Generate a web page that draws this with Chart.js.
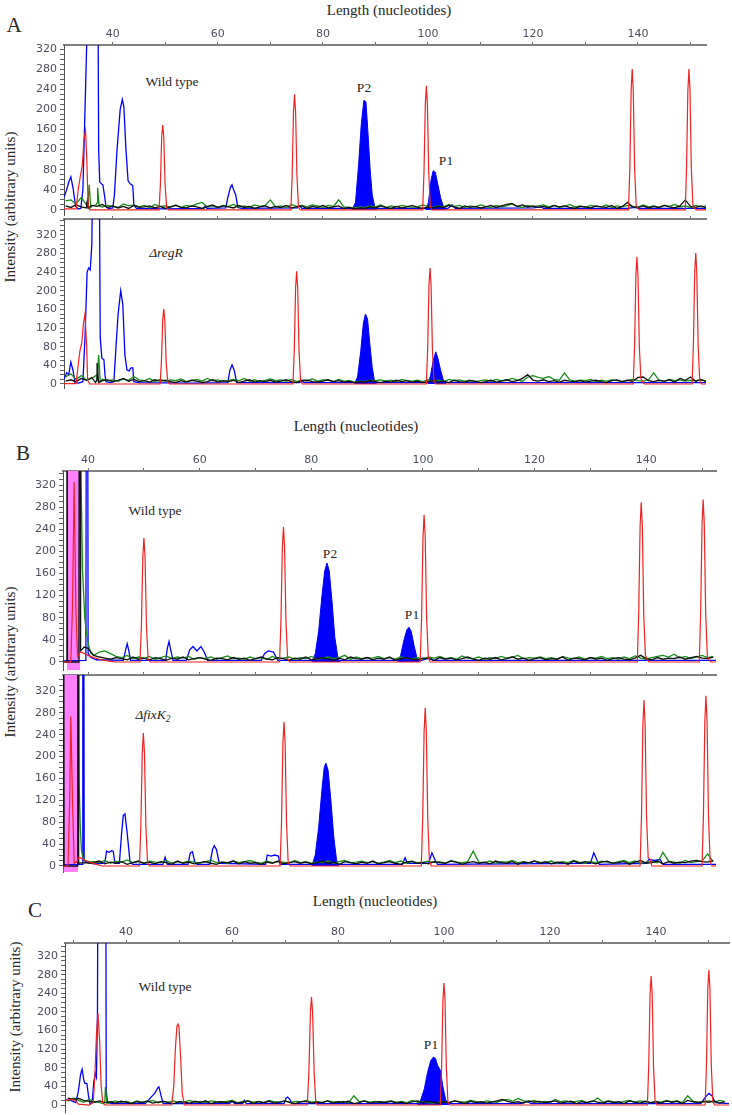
<!DOCTYPE html>
<html><head><meta charset="utf-8">
<script src="https://cdn.jsdelivr.net/npm/chart.js@4.4.1/dist/chart.umd.min.js"></script>
<style>
body{margin:0;background:#fff;}
#wrap{position:relative;width:732px;height:1115px;overflow:hidden;font-family:'Liberation Serif','DejaVu Serif','Times New Roman',serif;color:#262626;}
canvas{position:absolute;}
.t{position:absolute;white-space:nowrap;transform:translate(-50%,-50%);line-height:1;}
.r{position:absolute;white-space:nowrap;transform:translate(-50%,-50%) rotate(-90deg);line-height:1;font-size:15px;}
.i{font-style:italic;}
sub{font-size:70%;vertical-align:-3px;}
</style></head><body>
<div id="wrap">
<div class="t" style="left:389px;top:10px;font-size:15px">Length (nucleotides)</div>
<div class="t" style="left:14px;top:25px;font-size:21px">A</div>
<div class="r" style="left:10px;top:207px">Intensity (arbitrary units)</div>
<div class="t" style="left:172px;top:82px;font-size:13.5px">Wild type</div>
<div class="t" style="left:364px;top:88px;font-size:13.5px">P2</div>
<div class="t" style="left:446px;top:161px;font-size:13.5px">P1</div>
<div class="t i" style="left:166px;top:253px;font-size:13.5px">ΔregR</div>

<div class="t" style="left:356px;top:426px;font-size:15px">Length (nucleotides)</div>
<div class="t" style="left:23px;top:453px;font-size:21px">B</div>
<div class="r" style="left:10px;top:662px">Intensity (arbitrary units)</div>
<div class="t" style="left:155px;top:511px;font-size:13.5px">Wild type</div>
<div class="t" style="left:330px;top:554px;font-size:13.5px">P2</div>
<div class="t" style="left:412px;top:615px;font-size:13.5px">P1</div>
<div class="t i" style="left:153px;top:716px;font-size:13.5px">ΔfixK<sub>2</sub></div>

<div class="t" style="left:375px;top:901px;font-size:15px">Length (nucleotides)</div>
<div class="t" style="left:35px;top:910px;font-size:21px">C</div>
<div class="r" style="left:15px;top:1017px">Intensity (arbitrary units)</div>
<div class="t" style="left:165px;top:987px;font-size:13.5px">Wild type</div>
<div class="t" style="left:431px;top:1045px;font-size:13.5px">P1</div>
</div>
<script>
// ---------- tick values ----------
const xTickValues = [30,40,50,60,70,80,90,100,110,120,130,140,150];
const yTickValues = [0,10,20,30,40,50,60,70,80,90,100,110,120,130,140,150,160,170,180,190,200,210,220,230,240,250,260,270,280,290,300,310,320,330,340,350];

// ---------- nucleotide grids for baseline noise ----------
const gridA = [31,32,33,34,35,36,37,38,39,40,41,42,43,44,45,46,47,48,49,50,51,52,53,54,55,56,57,58,59,60,61,62,63,64,65,66,67,68,69,70,71,72,73,74,75,76,77,78,79,80,81,82,83,84,85,86,87,88,89,90,91,92,93,94,95,96,97,98,99,100,101,102,103,104,105,106,107,108,109,110,111,112,113,114,115,116,117,118,119,120,121,122,123,124,125,126,127,128,129,130,131,132,133,134,135,136,137,138,139,140,141,142,143,144,145,146,147,148,149,150,151,152,153];
const gridB = [41,42,43,44,45,46,47,48,49,50,51,52,53,54,55,56,57,58,59,60,61,62,63,64,65,66,67,68,69,70,71,72,73,74,75,76,77,78,79,80,81,82,83,84,85,86,87,88,89,90,91,92,93,94,95,96,97,98,99,100,101,102,103,104,105,106,107,108,109,110,111,112,113,114,115,116,117,118,119,120,121,122,123,124,125,126,127,128,129,130,131,132,133,134,135,136,137,138,139,140,141,142,143,144,145,146,147,148,149,150,151,152];
const gridC = [29,30,31,32,33,34,35,36,37,38,39,40,41,42,43,44,45,46,47,48,49,50,51,52,53,54,55,56,57,58,59,60,61,62,63,64,65,66,67,68,69,70,71,72,73,74,75,76,77,78,79,80,81,82,83,84,85,86,87,88,89,90,91,92,93,94,95,96,97,98,99,100,101,102,103,104,105,106,107,108,109,110,111,112,113,114,115,116,117,118,119,120,121,122,123,124,125,126,127,128,129,130,131,132,133,134,135,136,137,138,139,140,141,142,143,144,145,146,147,148,149,150,151,152,153];

// ---------- Panel A, wild type ----------
const a1Blue = [[30.7,25],[31.2,40],[31.6,55],[32.0,66],[32.4,45],[32.9,8],[33.4,2],[33.9,3],[34.3,40],[34.7,200],[35.1,360],[35.3,600],[37.1,600],[37.3,120],[37.5,56],[37.8,52],[38.1,50],[38.4,30],[38.7,6],[39.2,3],[40.0,4],[40.3,30],[40.8,120],[41.4,200],[41.8,220],[42.1,205],[42.5,120],[42.9,58],[43.3,52],[43.6,50],[43.8,48],[44.0,10],[44.5,3],[50,2],[57.3,3],[57.6,8],[57.9,3],[61.5,4],[61.9,25],[62.4,45],[62.7,50],[63.0,40],[63.4,30],[63.8,5],[64.5,3],[75.2,4],[75.6,8],[76,3],[85.0,3],[90.5,3],[100,3],[103.8,3],[104.6,10],[105.2,3],[120,4],[121.6,6],[122,3],[138,3],[139.5,5],[140,3],[149,3],[153,3]];
const a1BlueP2 = [[85.5,0],[86.2,15],[86.8,90],[87.3,170],[87.8,218],[88.2,215],[88.6,150],[89.0,80],[89.4,30],[89.9,5],[90.3,0]];
const a1BlueP1 = [[99.6,0],[100.1,15],[100.6,60],[101.0,78],[101.4,75],[101.9,50],[102.4,25],[102.9,8],[103.4,0]];
const a1Red = [[30.7,2],[33.0,2],[33.4,40],[33.8,66],[34.2,90],[34.5,140],[34.8,158],[35.0,110],[35.3,12],[35.6,0],
  [48.8,0],[49.05,50],[49.3,145],[49.5,169],[49.7,145],[49.95,50],[50.25,5],[50.6,0],
  [73.9,0],[74.15,70],[74.4,195],[74.6,230],[74.8,195],[75.05,70],[75.35,6],[75.7,0],
  [99.0,0],[99.25,75],[99.5,210],[99.7,247],[99.9,210],[100.15,75],[100.45,6],[100.8,0],
  [138.2,0],[138.45,85],[138.7,238],[138.9,280],[139.1,238],[139.35,85],[139.65,10],[140.0,3],[140.3,0],
  [149.0,0],[149.25,85],[149.5,238],[149.7,280],[149.9,238],[150.15,85],[150.45,10],[150.8,3],[151.1,0],[153,0]];
const a1Green = [18,20,12,25,10,8,14,6,9,7, 5,12,8,10,6,9,4,11,7,8, 6,10,5,9,7,12,15,6,8,5, 9,7,11,6,8,5,10,7,9,20, 6,8,5,11,7,9,6,10,8,5, 9,7,20,6,5,4,6,5,8,6, 10,5,8,6,9,7,5,6,10,7, 5,8,6,11,7,9,5,8,6,10, 7,5,9,6,8,12,7,5,9,6, 8,10,6,9,5,7,11,6,8,5, 9,7,6,10,5,8,6,9,7,5, 10,6,8,5,9,7,11,6,8,5, 9,6,8];
const a1GreenPk = [[35.2,5],[35.5,50],[35.8,5],[36.8,10],[37.1,44],[37.4,8]];
const a1Black = [8,5,10,6,12,9,7,11,5,8, 4,7,3,9,5,6,8,4,7,3, 6,9,5,4,8,6,3,7,10,5, 8,6,4,9,5,7,3,6,8,4, 7,5,9,4,6,8,3,7,5,9, 4,6,8,3,5,2,4,3,6,4, 8,5,3,7,4,6,9,5,3,6, 4,7,5,9,6,3,8,5,7,4, 6,9,5,8,11,13,7,10,6,8, 5,7,4,9,6,8,5,3,7,6, 4,8,6,5,9,3,7,15,6,5, 8,4,7,5,9,6,4,8,20,7, 5,8,4];
const a1BlackPk = [[34.9,4],[35.2,20],[35.4,4]];

// ---------- Panel A, deltaregR ----------
const a2Blue = [[30.7,10],[31.2,24],[31.6,20],[32.0,47],[32.4,30],[32.8,3],[33.5,2],[34.3,5],[34.7,100],[35.1,240],[35.4,249],[35.7,245],[36.0,300],[36.2,500],[37.4,500],[37.6,100],[37.9,56],[38.3,52],[38.5,20],[38.7,5],[39.5,3],[40.2,5],[40.6,80],[41.0,150],[41.5,200],[41.9,170],[42.3,62],[42.7,30],[43.1,28],[43.4,34],[43.8,35],[44.0,5],[45,3],[55,2],[61.9,3],[62.3,30],[62.7,41],[63.1,30],[63.6,3],[75.5,3],[76,6],[76.4,3],[86,3],[90.5,3],[100,3],[104,3],[120,3],[140,3],[153,3]];
const a2BlueP2 = [[86.0,0],[86.6,15],[87.2,70],[87.7,130],[88.1,150],[88.5,140],[88.9,90],[89.4,35],[89.8,8],[90.2,0]];
const a2BlueP1 = [[100.0,0],[100.5,18],[101.0,50],[101.5,69],[101.9,55],[102.4,30],[102.9,10],[103.4,0]];
const a2Red = [[30.7,1],[33.0,1],[33.3,30],[33.7,69],[34.1,90],[34.4,130],[34.7,150],[35.0,85],[35.2,8],[35.6,0],
  [49.0,0],[49.25,48],[49.5,137],[49.7,161],[49.9,137],[50.15,48],[50.45,5],[50.8,0],
  [74.3,0],[74.55,73],[74.8,206],[75.0,242],[75.2,206],[75.45,73],[75.75,6],[76.1,0],
  [99.7,0],[99.95,75],[100.2,212],[100.4,249],[100.6,212],[100.85,75],[101.15,6],[101.5,0],
  [139.1,0],[139.35,82],[139.6,232],[139.8,273],[140.0,232],[140.25,82],[140.55,12],[140.9,4],[141.2,0],
  [150.3,0],[150.55,84],[150.8,239],[151.0,281],[151.2,239],[151.45,84],[151.75,8],[152.1,0],[153,0]];
const a2Green = [15,22,10,18,8,12,20,10,7,9, 6,11,8,16,9,7,12,5,10,6, 9,7,11,5,8,10,6,12,7,9, 5,8,10,7,12,6,9,5,8,11, 7,9,6,10,5,8,7,11,6,9, 8,5,10,6,7,4,6,5,8,7, 9,6,8,5,10,7,6,8,5,9, 6,8,5,10,7,9,6,8,5,7, 9,6,10,7,8,12,9,6,15,18, 14,12,16,10,8,24,9,6,8,7, 10,5,8,6,9,7,5,8,10,7, 6,9,24,8,5,10,7,9,6,8, 7,9,6];
const a2GreenPk = [[37.0,5],[37.3,62],[37.6,5]];
const a2Black = [6,9,5,12,8,14,10,7,9,5, 8,12,6,10,5,7,4,9,6,8, 5,3,7,4,8,6,3,5,9,4, 7,5,8,3,6,9,4,7,5,8, 4,6,9,5,3,7,8,5,4,6, 9,5,7,4,6,3,5,4,7,5, 3,6,4,8,5,7,4,6,3,5, 7,4,6,3,8,5,4,7,6,3, 5,8,4,6,9,5,7,12,20,8, 6,9,5,7,4,8,6,5,7,4, 6,8,5,3,7,9,5,8,6,14, 15,7,5,8,6,9,4,12,8,15, 6,10,5];
const a2BlackPk = [[36.7,3],[37.0,45],[37.3,3]];

// ---------- Panel B, wild type ----------
const b1Pink = [[36.2,999],[38.6,999]];
const b1Blue = [[35.5,2],[39.6,3],[39.75,999],[39.85,999],[40.0,16],[40.5,8],[41.5,4],[46.3,3],[46.8,25],[47.0,33],[47.3,20],[47.6,3],[53.9,3],[54.2,25],[54.5,37],[54.8,22],[55.2,3],[57.6,3],[58.2,22],[58.8,28],[59.5,20],[60.2,28],[60.8,18],[61.4,3],[71.0,3],[71.6,15],[72.3,20],[73.2,18],[74.0,3],[79.5,3],[85.5,3],[95,3],[99.8,3],[101.3,8],[101.8,3],[120,3],[152.5,3]];
const b1BlueP2 = [[80.1,0],[80.7,15],[81.3,55],[81.9,120],[82.4,165],[82.8,179],[83.2,165],[83.7,110],[84.2,45],[84.8,5],[85.2,0]];
const b1BlueP1 = [[95.5,0],[96.0,12],[96.6,40],[97.1,58],[97.5,63],[97.9,55],[98.4,30],[98.9,8],[99.3,0]];
const b1Red = [[35.5,0],[36.9,0],[37.2,100],[37.5,325],[37.8,100],[38.1,10],[38.6,18],[39.2,16],[40,12],[41,8],[42,5],[43,3],[44,1],[45,0],
  [49.3,0],[49.55,67],[49.8,190],[50.0,224],[50.2,190],[50.45,67],[50.75,5],[51.1,0],
  [74.3,0],[74.55,73],[74.8,207],[75.0,244],[75.2,207],[75.45,73],[75.75,6],[76.1,0],
  [99.5,0],[99.75,80],[100.0,226],[100.2,266],[100.4,226],[100.65,80],[100.95,8],[101.3,0],
  [138.4,0],[138.65,87],[138.9,245],[139.1,289],[139.3,245],[139.55,87],[139.85,12],[140.2,4],[140.5,0],
  [149.5,0],[149.75,88],[150.0,250],[150.2,294],[150.4,250],[150.65,88],[150.95,10],[151.3,3],[151.6,0],[152.5,0]];
const b1Green = [12,18,20,15,10,8,12,6,9,7, 10,5,8,11,6,9,7,10,5,8, 6,9,5,8,11,6,7,5,9,6, 8,5,10,6,7,9,5,8,6,10, 5,7,9,6,8,12,5,9,6,8, 7,10,6,8,5,9,7,6,8,5, 9,7,10,6,8,5,11,7,6,9, 5,8,6,10,7,9,12,6,8,7, 9,6,8,5,10,7,6,9,5,8, 7,10,6,8,5,9,6,11,7,5, 8,10,12,9,14,7,10,6,9,12, 8,10];
const b1GreenPk = [[38.4,999],[38.7,350],[39.0,166],[39.4,80],[39.7,52],[40.1,30],[40.5,16]];
const b1Black = [12,9,7,5,8,6,4,9,5,7, 4,8,6,3,7,5,9,4,6,8, 5,3,7,6,4,8,5,7,3,6, 9,5,4,8,6,3,7,5,9,4, 6,8,5,3,7,4,9,6,5,8, 4,7,5,9,3,6,8,5,4,7, 6,3,8,5,7,4,6,9,5,3, 7,5,8,4,6,9,5,7,3,6, 8,4,6,5,9,3,7,6,4,8, 5,7,3,6,8,5,4,7,12,6, 4,8,5,7,6,9,5,8,10,7, 6,9];
const b1BlackPk = [[35.5,0],[36.15,0],[36.2,999],[36.3,0],[38.35,0],[38.45,999],[38.55,999],[38.65,20],[39.3,27],[39.9,25],[40.5,18]];

// ---------- Panel B, deltafixK2 ----------
const b2Pink = [[35.6,999],[38.2,999]];
const b2Blue = [[35.5,2],[38.95,3],[39.05,999],[39.15,999],[39.3,10],[40,6],[41,4],[43.0,5],[43.3,27],[43.8,25],[44.2,28],[44.5,27],[44.8,5],[45.6,5],[46.0,60],[46.3,92],[46.6,95],[47.0,60],[47.5,8],[48,3],[53.4,3],[53.8,16],[54.2,3],[57.9,3],[58.3,24],[58.7,26],[59.1,8],[59.5,3],[61.8,3],[62.3,30],[62.6,37],[63.0,30],[63.5,5],[71.8,3],[72.1,20],[72.8,18],[73.4,20],[74.1,18],[74.4,3],[79.5,3],[85.5,3],[96.3,3],[96.8,15],[97.2,5],[101.0,5],[101.6,24],[102.2,10],[102.6,3],[130.0,5],[130.6,24],[131.2,10],[131.6,3],[140.0,5],[140.5,12],[141.5,10],[142.5,12],[143,3],[152.5,3]];
const b2BlueP2 = [[80.1,0],[80.7,20],[81.3,70],[81.9,140],[82.3,180],[82.6,188],[83.0,175],[83.5,120],[84.0,55],[84.5,12],[84.9,0]];
const b2Red = [[35.5,0],[36.4,0],[36.7,120],[36.9,273],[37.2,120],[37.5,5],[38.0,8],[38.3,16],[38.8,14],[39.5,10],[40.5,6],[41.5,3],[42.5,0],
  [49.2,0],[49.45,73],[49.7,206],[49.9,243],[50.1,206],[50.35,73],[50.65,6],[51.0,0],
  [74.4,0],[74.65,79],[74.9,224],[75.1,263],[75.3,224],[75.55,79],[75.85,6],[76.2,0],
  [99.7,0],[99.95,87],[100.2,245],[100.4,289],[100.6,245],[100.85,87],[101.15,8],[101.5,0],
  [138.9,0],[139.15,91],[139.4,258],[139.6,303],[139.8,258],[140.05,91],[140.35,15],[140.7,12],[141.0,0],
  [150.0,0],[150.25,93],[150.5,264],[150.7,311],[150.9,264],[151.15,93],[151.45,8],[151.8,0],[152.5,0]];
const b2Green = [8,6,10,5,9,7,11,6,8,5, 9,7,6,10,5,8,6,9,7,5, 8,10,6,7,5,9,6,8,10,7, 5,9,6,8,7,5,10,6,8,5, 7,6,9,5,8,10,6,7,9,6, 8,5,7,10,6,9,5,8,6,7, 9,6,8,5,10,7,6,8,27,7, 6,9,5,8,7,10,6,8,5,9, 7,6,9,5,8,6,10,7,5,8, 6,9,7,5,8,10,6,9,5,7, 8,6,25,9,7,5,10,6,8,9, 22,8];
const b2GreenPk = [[38.1,999],[38.4,150],[38.6,71],[38.8,30],[39.0,18],[39.4,10],[40.2,8]];
const b2Black = [6,9,4,7,5,8,3,6,9,5, 7,4,8,6,3,9,5,7,4,6, 8,5,3,7,6,9,4,8,5,6, 3,7,5,9,4,6,8,5,7,4, 6,9,5,7,3,8,6,4,7,5, 9,4,6,8,5,3,7,9,5,6, 4,8,6,5,9,7,3,6,8,5, 7,4,9,6,5,8,3,7,6,9, 5,8,4,7,6,3,9,5,8,6, 4,7,9,5,6,8,3,7,10,5, 6,9,4,8,5,7,6,9,10,8, 7,10];
const b2BlackPk = [[35.5,0],[35.55,0],[35.6,999],[35.7,0],[38.1,0],[38.15,999],[38.25,999],[38.3,5],[39.5,6],[40.3,5]];

// ---------- Panel C, wild type ----------
const cBlue = [[28.5,11],[29.5,10],[30.5,5],[31.0,30],[31.4,65],[31.7,77],[32.0,55],[32.2,47],[32.6,46],[32.9,20],[33.2,2],[33.6,5],[33.9,50],[34.2,68],[34.4,60],[34.6,200],[34.8,999],[36.1,999],[36.25,30],[36.5,5],[37.5,3],[43.6,3],[44.2,10],[44.8,18],[45.4,25],[46.0,37],[46.2,39],[46.6,20],[47.0,3],[59.5,3],[60.0,8],[60.5,3],[62.0,3],[62.3,10],[62.7,3],[69.8,3],[70.2,15],[70.5,17],[70.9,12],[71.3,3],[94.5,3],[101.5,3],[114.5,3],[115.6,8],[116.5,3],[148.5,3],[149.2,15],[150.0,25],[150.6,20],[151.2,5],[153.8,3]];
const cBlueP1 = [[95.0,0],[95.6,10],[96.3,35],[96.9,70],[97.5,95],[98.0,103],[98.4,100],[98.8,85],[99.3,75],[99.8,40],[100.3,12],[100.9,0]];
const cRed = [[28.5,10],[29.5,12],[30.4,10],[31.0,2],[33.0,0],[33.8,5],[34.1,60],[34.4,150],[34.7,197],[35.0,140],[35.3,40],[35.6,5],[36,0],
  [48.6,0],[49.0,40],[49.3,120],[49.6,170],[49.8,174],[50.0,165],[50.3,100],[50.6,25],[51.0,0],
  [74.2,0],[74.5,70],[74.8,200],[75.0,232],[75.2,200],[75.5,70],[75.8,6],[76.1,0],
  [99.3,0],[99.55,80],[99.8,225],[100.0,262],[100.2,225],[100.45,80],[100.75,6],[101.1,0],
  [138.4,0],[138.65,85],[138.9,238],[139.1,277],[139.3,238],[139.55,85],[139.85,8],[140.2,0],
  [149.3,0],[149.55,88],[149.8,250],[150.0,290],[150.2,250],[150.45,88],[150.75,8],[151.1,0],[153.8,0]];
const cGreen = [8,15,10,6,12,8,5,10,6,9, 5,8,4,9,6,7,10,5,8,6, 9,5,7,10,6,8,5,9,7,6, 8,10,5,7,9,6,8,5,10,7, 6,9,5,8,7,10,6,8,5,9, 7,6,8,5,20,7,9,6,8,5, 7,9,6,8,5,10,6,7,5,4, 6,8,5,9,7,6,10,8,5,9, 7,6,10,12,8,14,9,7,10,6, 8,5,12,7,9,6,8,10,5,7, 15,6,9,7,5,8,10,6,9,7, 5,8,6,10,7,9,5,20,8,6, 7,9,6,10,8];
const cGreenPk = [[35.8,3],[36.1,39],[36.4,3]];
const cBlack = [15,12,14,10,8,6,9,5,7,4, 8,6,3,7,5,9,4,6,8,5, 3,7,6,4,8,5,9,3,6,7, 5,8,4,6,9,3,7,5,8,4, 6,9,5,3,7,8,4,6,5,9, 4,7,6,8,3,5,9,4,6,7, 5,8,4,6,3,7,9,5,8,6, 4,7,5,9,6,3,8,5,7,4, 6,9,12,8,5,7,4,9,6,8, 5,7,9,4,6,8,3,7,5,9, 6,4,8,5,7,3,9,6,4,8, 5,7,4,9,6,8,3,10,7,5, 8,6,9,4,7];
const cBlackPk = [];

// ---------- rendering ----------
const BLUE='#0000ff', RED='#f02323', GREEN='#1b8c1b', BLACK='#111111', PINK='#ff80ff';
function pts(a){return a.map(p=>({x:p[0],y:p[1]}));}
function zip(g,v){return g.map((x,i)=>({x:x,y:v[i]}));}
function merged(g,v,pk){return zip(g,v).concat(pts(pk)).sort((a,b)=>a.x-b.x);}

function panel(p){
  const c=document.createElement('canvas');
  const topH=p.labels?30:6;
  const w=732, h=topH+(p.bottom-p.top)+2;
  c.width=w; c.height=h;
  c.style.left='0px'; c.style.top=(p.top-topH)+'px';
  c.style.width=w+'px'; c.style.height=h+'px';
  document.getElementById('wrap').appendChild(c);
  const line=(data,color,bw)=>({data:data,borderColor:color,backgroundColor:color,borderWidth:bw,pointRadius:0,fill:false,tension:0});
  const ds=[];
  ds.push(line(pts(p.red),RED,1.2));
  ds.push(line(merged(p.grid,p.black,p.blackPk),BLACK,1.3));
  ds.push(line(merged(p.grid,p.green,p.greenPk),GREEN,1.3));
  ds.push(line(pts(p.blue),BLUE,1.3));
  p.fills.forEach(f=>ds.push({data:pts(f),borderColor:BLUE,backgroundColor:BLUE,borderWidth:1,pointRadius:0,fill:'origin',tension:0}));
  if(p.pink) ds.push({data:pts(p.pink),borderWidth:0,borderColor:'rgba(0,0,0,0)',backgroundColor:PINK,pointRadius:0,fill:'start',tension:0});
  const tickFont={family:'DejaVu Sans',size:11};
  new Chart(c,{type:'line',data:{datasets:ds},options:{
    responsive:false,animation:false,events:[],
    layout:{padding:{left:0,top:0,right:w-p.right,bottom:2}},
    plugins:{legend:{display:false},tooltip:{enabled:false}},
    scales:{
      x:{type:'linear',position:'top',min:p.xmin,max:p.xmax,
        afterBuildTicks:s=>{s.ticks=xTickValues.filter(v=>v>=p.xmin&&v<=p.xmax).map(v=>({value:v}));},
        afterFit:s=>{s.height=topH;s.paddingLeft=0;s.paddingRight=0;},
        grid:{drawOnChartArea:false,drawTicks:true,tickLength:3,color:'#707070',tickWidth:1},
        border:{display:true,color:'#808080',width:2},
        ticks:{display:p.labels,autoSkip:false,maxRotation:0,padding:1,color:'#4e4e60',font:tickFont,
          callback:v=>(v%20===0?String(v):'')}
      },
      y:{type:'linear',position:'left',min:p.ymin,max:p.ymax,
        afterBuildTicks:s=>{s.ticks=yTickValues.filter(v=>v>=p.ymin&&v<=p.ymax).map(v=>({value:v}));},
        afterFit:s=>{s.width=p.left;s.paddingTop=0;s.paddingBottom=0;},
        grid:{drawOnChartArea:false,drawTicks:true,tickLength:4,color:'#606060'},
        border:{display:true,color:'#505050',width:1},
        ticks:{autoSkip:false,padding:3,color:'#4e4e60',font:tickFont,
          callback:v=>(v%40===0?String(v):'')}
      }
    }
  }});
}

panel({labels:true,left:64,right:706,top:45,bottom:215,xmin:30.7,xmax:152.95,ymin:-10,ymax:328,
  grid:gridA,red:a1Red,blue:a1Blue,green:a1Green,greenPk:a1GreenPk,black:a1Black,blackPk:a1BlackPk,fills:[a1BlueP2,a1BlueP1]});
panel({labels:false,left:64,right:706,top:219,bottom:388,xmin:30.7,xmax:152.95,ymin:-8.6,ymax:354,
  grid:gridA,red:a2Red,blue:a2Blue,green:a2Green,greenPk:a2GreenPk,black:a2Black,blackPk:a2BlackPk,fills:[a2BlueP2,a2BlueP1]});
panel({labels:true,left:63,right:716,top:471,bottom:670,xmin:35.5,xmax:152.5,ymin:-14.5,ymax:345.4,
  grid:gridB,red:b1Red,blue:b1Blue,green:b1Green,greenPk:b1GreenPk,black:b1Black,blackPk:b1BlackPk,fills:[b1BlueP2,b1BlueP1],pink:b1Pink});
panel({labels:false,left:63,right:716,top:675,bottom:872,xmin:35.5,xmax:152.5,ymin:-11,ymax:349,
  grid:gridB,red:b2Red,blue:b2Blue,green:b2Green,greenPk:b2GreenPk,black:b2Black,blackPk:b2BlackPk,fills:[b2BlueP2],pink:b2Pink});
panel({labels:true,left:65,right:729,top:943,bottom:1112,xmin:28.47,xmax:153.8,ymin:-15,ymax:348,
  grid:gridC,red:cRed,blue:cBlue,green:cGreen,greenPk:cGreenPk,black:cBlack,blackPk:cBlackPk,fills:[cBlueP1]});
</script>
</body></html>
